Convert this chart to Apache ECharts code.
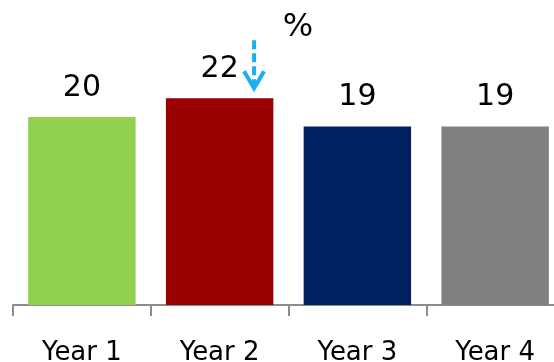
<!DOCTYPE html>
<html>
<head>
<meta charset="utf-8">
<script src="https://cdn.jsdelivr.net/npm/echarts@6/dist/echarts.min.js"></script>
<style>
  html, body { margin: 0; padding: 0; background: #fff; overflow: hidden; width: 554px; height: 362px; }
  #chart { width: 580px; height: 362px; }
</style>
</head>
<body>
<div id="chart"></div>
<script>
const categories = ['Year 1', 'Year 2', 'Year 3', 'Year 4'];
const values = [20, 22, 19, 19];
const barColors = ['#92d050', '#990000', '#002060', '#808080'];
const unitLabel = '%';

const FONT = '"DejaVu Sans", Verdana, sans-serif';

const chart = echarts.init(document.getElementById('chart'), null, { renderer: 'canvas' });

// The axis runs past the right edge of the visible page
chart.setOption({
  animation: false,
  grid: { left: 13, top: 23, width: 551, height: 282, outerBoundsMode: 'none', containLabel: false },
  xAxis: {
    type: 'category',
    data: categories,
    boundaryGap: true,
    axisLine: { lineStyle: { color: '#8c8c8c', width: 2 } },
    axisTick: { show: true, length: 11, lineStyle: { color: '#8c8c8c', width: 2 } },
    axisLabel: { color: '#000', fontSize: 26, fontFamily: FONT, margin: 35 }
  },
  yAxis: {
    type: 'value',
    min: 0,
    max: 30,
    show: false,
    splitLine: { show: false }
  },
  series: [{
    type: 'bar',
    barWidth: '78%',
    data: values.map((v, i) => ({ value: v, itemStyle: { color: barColors[i] } })),
    label: {
      show: true,
      position: 'top',
      distance: 14,
      color: '#000',
      fontSize: 30,
      fontFamily: FONT
    }
  }]
});

// Downward dashed arrow beside the Year 2 bar, plus the unit marker
const idx = 1;
const topPt = chart.convertToPixel({ seriesIndex: 0 }, [idx, values[idx]]);
const bandW = chart.getModel().getComponent('xAxis', 0).axis.getBandWidth();
const ax = topPt[0] + bandW * 0.25;
const tipY = topPt[1] - 9;

chart.setOption({
  graphic: [
    {
      type: 'line',
      shape: { x1: ax, y1: tipY - 49, x2: ax, y2: tipY - 4 },
      style: { stroke: '#1ab0f0', lineWidth: 4, lineDash: [9, 4] }
    },
    {
      type: 'polyline',
      shape: { points: [[ax - 10, tipY - 18], [ax, tipY - 1], [ax + 10, tipY - 18]] },
      style: { stroke: '#1ab0f0', lineWidth: 4, fill: null }
    },
    {
      type: 'text',
      x: ax + 44,
      y: 28,
      style: { text: unitLabel, fontSize: 32, fontFamily: FONT, fill: '#000', align: 'center', verticalAlign: 'middle' }
    }
  ]
});
</script>
</body>
</html>
